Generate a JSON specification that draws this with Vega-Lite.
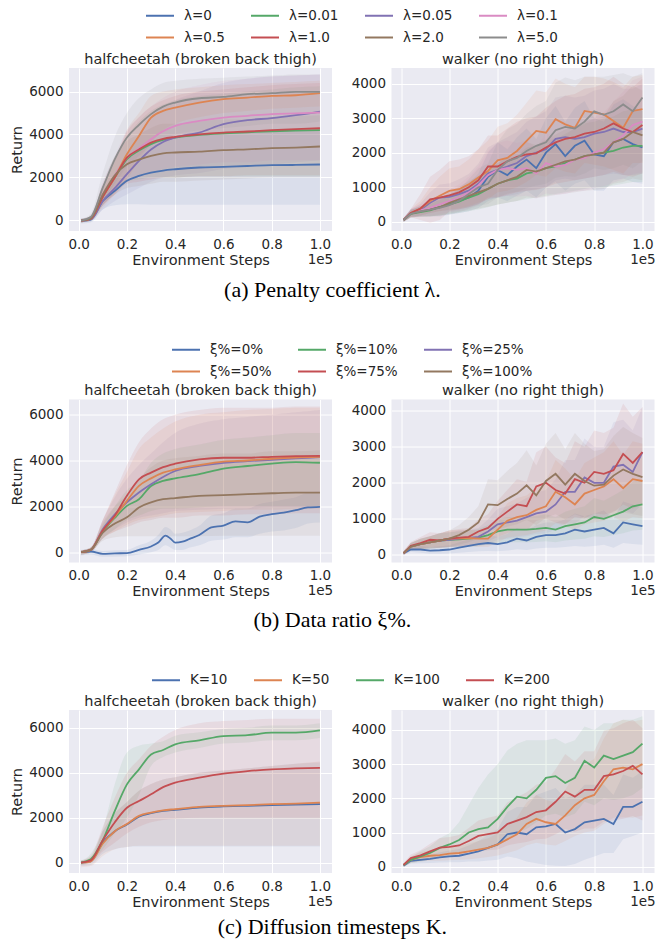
{
"$schema": "https://vega.github.io/schema/vega-lite/v6.json",
"padding": {"left": 9, "top": 0, "right": 5, "bottom": 5},
"background": "white",
"spacing": 33.5,
"resolve": {"scale": {"color": "independent", "fill": "independent"}},
"datasets": {
"ah": [
{"s":"λ=0","x":0.01,"y":-20,"l":-150,"h":100},{"s":"λ=0","x":0.05,"y":30,"l":-100,"h":150},{"s":"λ=0","x":0.1,"y":900,"l":500,"h":1300},{"s":"λ=0","x":0.15,"y":1370,"l":700,"h":2000},{"s":"λ=0","x":0.2,"y":1840,"l":750,"h":2900},{"s":"λ=0","x":0.25,"y":2070,"l":750,"h":3300},{"s":"λ=0","x":0.3,"y":2220,"l":720,"h":3600},{"s":"λ=0","x":0.35,"y":2320,"l":720,"h":3800},{"s":"λ=0","x":0.4,"y":2380,"l":720,"h":3900},{"s":"λ=0","x":0.5,"y":2460,"l":720,"h":4000},{"s":"λ=0","x":0.6,"y":2490,"l":720,"h":4050},{"s":"λ=0","x":0.7,"y":2530,"l":720,"h":4100},{"s":"λ=0","x":0.8,"y":2570,"l":720,"h":4150},{"s":"λ=0","x":0.9,"y":2580,"l":720,"h":4150},{"s":"λ=0","x":1,"y":2600,"l":720,"h":4200},
{"s":"λ=0.01","x":0.01,"y":-20,"l":-100,"h":50},{"s":"λ=0.01","x":0.05,"y":60,"l":-50,"h":200},{"s":"λ=0.01","x":0.1,"y":1100,"l":700,"h":1600},{"s":"λ=0.01","x":0.15,"y":2000,"l":1300,"h":2800},{"s":"λ=0.01","x":0.2,"y":2850,"l":1800,"h":3900},{"s":"λ=0.01","x":0.25,"y":3250,"l":1900,"h":4600},{"s":"λ=0.01","x":0.3,"y":3550,"l":2000,"h":5100},{"s":"λ=0.01","x":0.35,"y":3750,"l":2000,"h":5400},{"s":"λ=0.01","x":0.4,"y":3850,"l":2000,"h":5600},{"s":"λ=0.01","x":0.5,"y":3980,"l":2050,"h":5800},{"s":"λ=0.01","x":0.6,"y":4050,"l":2050,"h":5900},{"s":"λ=0.01","x":0.7,"y":4100,"l":2050,"h":6000},{"s":"λ=0.01","x":0.8,"y":4150,"l":2050,"h":6100},{"s":"λ=0.01","x":0.9,"y":4180,"l":2050,"h":6200},{"s":"λ=0.01","x":1,"y":4200,"l":2050,"h":6250},
{"s":"λ=0.05","x":0.01,"y":-20,"l":-100,"h":50},{"s":"λ=0.05","x":0.05,"y":40,"l":-50,"h":150},{"s":"λ=0.05","x":0.1,"y":900,"l":500,"h":1300},{"s":"λ=0.05","x":0.15,"y":1500,"l":900,"h":2200},{"s":"λ=0.05","x":0.2,"y":2150,"l":1200,"h":3100},{"s":"λ=0.05","x":0.25,"y":2770,"l":1500,"h":4000},{"s":"λ=0.05","x":0.3,"y":3300,"l":1800,"h":4800},{"s":"λ=0.05","x":0.35,"y":3650,"l":2000,"h":5300},{"s":"λ=0.05","x":0.4,"y":3860,"l":2100,"h":5600},{"s":"λ=0.05","x":0.5,"y":4090,"l":2200,"h":6000},{"s":"λ=0.05","x":0.6,"y":4480,"l":2400,"h":6400},{"s":"λ=0.05","x":0.7,"y":4670,"l":2500,"h":6600},{"s":"λ=0.05","x":0.8,"y":4760,"l":2600,"h":6700},{"s":"λ=0.05","x":0.9,"y":4900,"l":2700,"h":6750},{"s":"λ=0.05","x":1,"y":5070,"l":2800,"h":6800},
{"s":"λ=0.1","x":0.01,"y":-20,"l":-100,"h":60},{"s":"λ=0.1","x":0.05,"y":80,"l":0,"h":200},{"s":"λ=0.1","x":0.1,"y":1200,"l":700,"h":1800},{"s":"λ=0.1","x":0.15,"y":2100,"l":1300,"h":3000},{"s":"λ=0.1","x":0.2,"y":2920,"l":1800,"h":4200},{"s":"λ=0.1","x":0.25,"y":3350,"l":2000,"h":4800},{"s":"λ=0.1","x":0.3,"y":3780,"l":2200,"h":5300},{"s":"λ=0.1","x":0.35,"y":4150,"l":2400,"h":5700},{"s":"λ=0.1","x":0.4,"y":4400,"l":2500,"h":6000},{"s":"λ=0.1","x":0.5,"y":4630,"l":2600,"h":6300},{"s":"λ=0.1","x":0.6,"y":4790,"l":2700,"h":6500},{"s":"λ=0.1","x":0.7,"y":4870,"l":2700,"h":6600},{"s":"λ=0.1","x":0.8,"y":4950,"l":2800,"h":6700},{"s":"λ=0.1","x":0.9,"y":4980,"l":2800,"h":6750},{"s":"λ=0.1","x":1,"y":5020,"l":2800,"h":6800},
{"s":"λ=0.5","x":0.01,"y":-20,"l":-100,"h":60},{"s":"λ=0.5","x":0.05,"y":80,"l":0,"h":200},{"s":"λ=0.5","x":0.1,"y":1100,"l":600,"h":1600},{"s":"λ=0.5","x":0.15,"y":2000,"l":1200,"h":2800},{"s":"λ=0.5","x":0.2,"y":3080,"l":1900,"h":4200},{"s":"λ=0.5","x":0.25,"y":3930,"l":2800,"h":5000},{"s":"λ=0.5","x":0.3,"y":4790,"l":3600,"h":5800},{"s":"λ=0.5","x":0.35,"y":5100,"l":4200,"h":6000},{"s":"λ=0.5","x":0.4,"y":5250,"l":4500,"h":6100},{"s":"λ=0.5","x":0.5,"y":5490,"l":4800,"h":6200},{"s":"λ=0.5","x":0.6,"y":5650,"l":5000,"h":6300},{"s":"λ=0.5","x":0.7,"y":5720,"l":5100,"h":6350},{"s":"λ=0.5","x":0.8,"y":5800,"l":5200,"h":6400},{"s":"λ=0.5","x":0.9,"y":5830,"l":5250,"h":6450},{"s":"λ=0.5","x":1,"y":5925,"l":5300,"h":6500},
{"s":"λ=1.0","x":0.01,"y":-20,"l":-100,"h":60},{"s":"λ=1.0","x":0.05,"y":60,"l":0,"h":150},{"s":"λ=1.0","x":0.1,"y":1100,"l":700,"h":1600},{"s":"λ=1.0","x":0.15,"y":2000,"l":1200,"h":2800},{"s":"λ=1.0","x":0.2,"y":2920,"l":1700,"h":4100},{"s":"λ=1.0","x":0.25,"y":3300,"l":1800,"h":4800},{"s":"λ=1.0","x":0.3,"y":3620,"l":1900,"h":5300},{"s":"λ=1.0","x":0.35,"y":3800,"l":2000,"h":5600},{"s":"λ=1.0","x":0.4,"y":3890,"l":2000,"h":5800},{"s":"λ=1.0","x":0.5,"y":4010,"l":2050,"h":6000},{"s":"λ=1.0","x":0.6,"y":4090,"l":2050,"h":6100},{"s":"λ=1.0","x":0.7,"y":4140,"l":2100,"h":6200},{"s":"λ=1.0","x":0.8,"y":4200,"l":2100,"h":6300},{"s":"λ=1.0","x":0.9,"y":4250,"l":2100,"h":6350},{"s":"λ=1.0","x":1,"y":4290,"l":2100,"h":6400},
{"s":"λ=2.0","x":0.01,"y":-20,"l":-100,"h":60},{"s":"λ=2.0","x":0.05,"y":80,"l":0,"h":200},{"s":"λ=2.0","x":0.1,"y":1200,"l":700,"h":1700},{"s":"λ=2.0","x":0.15,"y":2100,"l":1200,"h":3000},{"s":"λ=2.0","x":0.2,"y":2610,"l":1500,"h":3700},{"s":"λ=2.0","x":0.25,"y":2830,"l":1600,"h":4000},{"s":"λ=2.0","x":0.3,"y":3000,"l":1700,"h":4300},{"s":"λ=2.0","x":0.35,"y":3120,"l":1800,"h":4500},{"s":"λ=2.0","x":0.4,"y":3160,"l":1800,"h":4500},{"s":"λ=2.0","x":0.5,"y":3200,"l":1850,"h":4600},{"s":"λ=2.0","x":0.6,"y":3270,"l":1900,"h":4700},{"s":"λ=2.0","x":0.7,"y":3310,"l":1950,"h":4700},{"s":"λ=2.0","x":0.8,"y":3360,"l":2000,"h":4800},{"s":"λ=2.0","x":0.9,"y":3390,"l":2000,"h":4850},{"s":"λ=2.0","x":1,"y":3440,"l":2000,"h":4900},
{"s":"λ=5.0","x":0.01,"y":-20,"l":-100,"h":60},{"s":"λ=5.0","x":0.05,"y":150,"l":0,"h":300},{"s":"λ=5.0","x":0.1,"y":1520,"l":900,"h":2200},{"s":"λ=5.0","x":0.15,"y":2850,"l":1700,"h":3900},{"s":"λ=5.0","x":0.2,"y":3860,"l":2500,"h":5000},{"s":"λ=5.0","x":0.25,"y":4450,"l":3000,"h":5700},{"s":"λ=5.0","x":0.3,"y":4950,"l":3500,"h":6100},{"s":"λ=5.0","x":0.35,"y":5300,"l":3800,"h":6400},{"s":"λ=5.0","x":0.4,"y":5490,"l":4000,"h":6500},{"s":"λ=5.0","x":0.5,"y":5690,"l":4200,"h":6600},{"s":"λ=5.0","x":0.6,"y":5750,"l":4300,"h":6650},{"s":"λ=5.0","x":0.7,"y":5880,"l":4400,"h":6700},{"s":"λ=5.0","x":0.8,"y":5925,"l":4500,"h":6750},{"s":"λ=5.0","x":0.9,"y":5990,"l":4500,"h":6800},{"s":"λ=5.0","x":1,"y":5990,"l":4600,"h":6800}
],
"aw": [
{"s":"λ=0","x":0.01,"y":50,"l":0,"h":100},{"s":"λ=0","x":0.04,"y":250,"l":150,"h":350},{"s":"λ=0","x":0.08,"y":300,"l":150,"h":450},{"s":"λ=0","x":0.12,"y":350,"l":150,"h":550},{"s":"λ=0","x":0.16,"y":420,"l":150,"h":700},{"s":"λ=0","x":0.2,"y":500,"l":200,"h":800},{"s":"λ=0","x":0.24,"y":600,"l":250,"h":950},{"s":"λ=0","x":0.28,"y":700,"l":300,"h":1100},{"s":"λ=0","x":0.32,"y":900,"l":400,"h":1400},{"s":"λ=0","x":0.36,"y":1300,"l":600,"h":2000},{"s":"λ=0","x":0.4,"y":1500,"l":700,"h":2300},{"s":"λ=0","x":0.44,"y":1350,"l":600,"h":2100},{"s":"λ=0","x":0.48,"y":1600,"l":750,"h":2450},{"s":"λ=0","x":0.52,"y":1800,"l":900,"h":2700},{"s":"λ=0","x":0.56,"y":1550,"l":700,"h":2400},{"s":"λ=0","x":0.6,"y":2000,"l":1000,"h":3000},{"s":"λ=0","x":0.64,"y":2250,"l":1150,"h":3350},{"s":"λ=0","x":0.68,"y":1900,"l":900,"h":2900},{"s":"λ=0","x":0.72,"y":2200,"l":1100,"h":3300},{"s":"λ=0","x":0.76,"y":2350,"l":1200,"h":3500},{"s":"λ=0","x":0.8,"y":1950,"l":900,"h":3000},{"s":"λ=0","x":0.84,"y":1900,"l":900,"h":2900},{"s":"λ=0","x":0.88,"y":2300,"l":1200,"h":3400},{"s":"λ=0","x":0.92,"y":2400,"l":1250,"h":3550},{"s":"λ=0","x":0.96,"y":2250,"l":1150,"h":3350},{"s":"λ=0","x":1,"y":2150,"l":1100,"h":3200},
{"s":"λ=0.01","x":0.01,"y":50,"l":0,"h":100},{"s":"λ=0.01","x":0.04,"y":230,"l":120,"h":340},{"s":"λ=0.01","x":0.08,"y":280,"l":140,"h":420},{"s":"λ=0.01","x":0.12,"y":330,"l":150,"h":500},{"s":"λ=0.01","x":0.16,"y":420,"l":180,"h":650},{"s":"λ=0.01","x":0.2,"y":500,"l":220,"h":780},{"s":"λ=0.01","x":0.24,"y":580,"l":250,"h":900},{"s":"λ=0.01","x":0.28,"y":700,"l":300,"h":1100},{"s":"λ=0.01","x":0.32,"y":800,"l":350,"h":1250},{"s":"λ=0.01","x":0.36,"y":950,"l":420,"h":1480},{"s":"λ=0.01","x":0.4,"y":1100,"l":500,"h":1700},{"s":"λ=0.01","x":0.44,"y":1200,"l":550,"h":1850},{"s":"λ=0.01","x":0.48,"y":1250,"l":600,"h":1900},{"s":"λ=0.01","x":0.52,"y":1400,"l":650,"h":2150},{"s":"λ=0.01","x":0.56,"y":1450,"l":700,"h":2200},{"s":"λ=0.01","x":0.6,"y":1550,"l":750,"h":2350},{"s":"λ=0.01","x":0.64,"y":1600,"l":800,"h":2400},{"s":"λ=0.01","x":0.68,"y":1700,"l":850,"h":2550},{"s":"λ=0.01","x":0.72,"y":1800,"l":900,"h":2700},{"s":"λ=0.01","x":0.76,"y":1900,"l":950,"h":2850},{"s":"λ=0.01","x":0.8,"y":1950,"l":1000,"h":2900},{"s":"λ=0.01","x":0.84,"y":2000,"l":1000,"h":3000},{"s":"λ=0.01","x":0.88,"y":2050,"l":1050,"h":3050},{"s":"λ=0.01","x":0.92,"y":2150,"l":1100,"h":3200},{"s":"λ=0.01","x":0.96,"y":2200,"l":1150,"h":3250},{"s":"λ=0.01","x":1,"y":2200,"l":1150,"h":3250},
{"s":"λ=0.05","x":0.01,"y":50,"l":0,"h":100},{"s":"λ=0.05","x":0.04,"y":250,"l":140,"h":360},{"s":"λ=0.05","x":0.08,"y":350,"l":180,"h":520},{"s":"λ=0.05","x":0.12,"y":550,"l":250,"h":850},{"s":"λ=0.05","x":0.16,"y":700,"l":320,"h":1080},{"s":"λ=0.05","x":0.2,"y":720,"l":330,"h":1110},{"s":"λ=0.05","x":0.24,"y":800,"l":370,"h":1230},{"s":"λ=0.05","x":0.28,"y":900,"l":420,"h":1380},{"s":"λ=0.05","x":0.32,"y":1100,"l":520,"h":1680},{"s":"λ=0.05","x":0.36,"y":1400,"l":650,"h":2150},{"s":"λ=0.05","x":0.4,"y":1500,"l":700,"h":2300},{"s":"λ=0.05","x":0.44,"y":1600,"l":750,"h":2450},{"s":"λ=0.05","x":0.48,"y":1700,"l":800,"h":2600},{"s":"λ=0.05","x":0.52,"y":1900,"l":900,"h":2900},{"s":"λ=0.05","x":0.56,"y":2000,"l":950,"h":3050},{"s":"λ=0.05","x":0.6,"y":2100,"l":1000,"h":3200},{"s":"λ=0.05","x":0.64,"y":2400,"l":1200,"h":3600},{"s":"λ=0.05","x":0.68,"y":2450,"l":1250,"h":3650},{"s":"λ=0.05","x":0.72,"y":2400,"l":1200,"h":3600},{"s":"λ=0.05","x":0.76,"y":2450,"l":1250,"h":3650},{"s":"λ=0.05","x":0.8,"y":2550,"l":1300,"h":3800},{"s":"λ=0.05","x":0.84,"y":2600,"l":1350,"h":3850},{"s":"λ=0.05","x":0.88,"y":2700,"l":1400,"h":4000},{"s":"λ=0.05","x":0.92,"y":2600,"l":1350,"h":3850},{"s":"λ=0.05","x":0.96,"y":2600,"l":1350,"h":3850},{"s":"λ=0.05","x":1,"y":2700,"l":1400,"h":4000},
{"s":"λ=0.1","x":0.01,"y":50,"l":0,"h":100},{"s":"λ=0.1","x":0.04,"y":250,"l":130,"h":370},{"s":"λ=0.1","x":0.08,"y":330,"l":160,"h":500},{"s":"λ=0.1","x":0.12,"y":400,"l":180,"h":620},{"s":"λ=0.1","x":0.16,"y":500,"l":220,"h":780},{"s":"λ=0.1","x":0.2,"y":600,"l":270,"h":930},{"s":"λ=0.1","x":0.24,"y":700,"l":320,"h":1080},{"s":"λ=0.1","x":0.28,"y":850,"l":400,"h":1300},{"s":"λ=0.1","x":0.32,"y":1050,"l":500,"h":1600},{"s":"λ=0.1","x":0.36,"y":1350,"l":650,"h":2050},{"s":"λ=0.1","x":0.4,"y":1500,"l":720,"h":2280},{"s":"λ=0.1","x":0.44,"y":1550,"l":750,"h":2350},{"s":"λ=0.1","x":0.48,"y":1500,"l":720,"h":2280},{"s":"λ=0.1","x":0.52,"y":1550,"l":750,"h":2350},{"s":"λ=0.1","x":0.56,"y":1400,"l":680,"h":2120},{"s":"λ=0.1","x":0.6,"y":1700,"l":820,"h":2580},{"s":"λ=0.1","x":0.64,"y":1600,"l":780,"h":2420},{"s":"λ=0.1","x":0.68,"y":1650,"l":800,"h":2500},{"s":"λ=0.1","x":0.72,"y":1800,"l":880,"h":2720},{"s":"λ=0.1","x":0.76,"y":1850,"l":900,"h":2800},{"s":"λ=0.1","x":0.8,"y":2000,"l":980,"h":3020},{"s":"λ=0.1","x":0.84,"y":2100,"l":1030,"h":3170},{"s":"λ=0.1","x":0.88,"y":2300,"l":1130,"h":3470},{"s":"λ=0.1","x":0.92,"y":2500,"l":1230,"h":3770},{"s":"λ=0.1","x":0.96,"y":2800,"l":1380,"h":4100},{"s":"λ=0.1","x":1,"y":2900,"l":1430,"h":4200},
{"s":"λ=0.5","x":0.01,"y":50,"l":0,"h":100},{"s":"λ=0.5","x":0.04,"y":250,"l":130,"h":370},{"s":"λ=0.5","x":0.08,"y":380,"l":180,"h":600},{"s":"λ=0.5","x":0.12,"y":600,"l":250,"h":1000},{"s":"λ=0.5","x":0.16,"y":750,"l":300,"h":1300},{"s":"λ=0.5","x":0.2,"y":890,"l":350,"h":1550},{"s":"λ=0.5","x":0.24,"y":940,"l":380,"h":1600},{"s":"λ=0.5","x":0.28,"y":1080,"l":450,"h":1800},{"s":"λ=0.5","x":0.32,"y":1280,"l":550,"h":2100},{"s":"λ=0.5","x":0.36,"y":1470,"l":650,"h":2350},{"s":"λ=0.5","x":0.4,"y":1780,"l":850,"h":2750},{"s":"λ=0.5","x":0.44,"y":1850,"l":900,"h":2850},{"s":"λ=0.5","x":0.48,"y":2050,"l":1000,"h":3100},{"s":"λ=0.5","x":0.52,"y":2340,"l":1150,"h":3450},{"s":"λ=0.5","x":0.56,"y":2630,"l":1350,"h":3800},{"s":"λ=0.5","x":0.6,"y":2580,"l":1300,"h":3750},{"s":"λ=0.5","x":0.64,"y":2970,"l":1550,"h":4150},{"s":"λ=0.5","x":0.68,"y":2820,"l":1450,"h":4000},{"s":"λ=0.5","x":0.72,"y":2720,"l":1400,"h":3900},{"s":"λ=0.5","x":0.76,"y":3210,"l":1700,"h":4200},{"s":"λ=0.5","x":0.8,"y":3160,"l":1650,"h":4200},{"s":"λ=0.5","x":0.84,"y":3110,"l":1600,"h":4150},{"s":"λ=0.5","x":0.88,"y":2920,"l":1500,"h":4050},{"s":"λ=0.5","x":0.92,"y":2720,"l":1400,"h":3900},{"s":"λ=0.5","x":0.96,"y":3210,"l":1700,"h":4200},{"s":"λ=0.5","x":1,"y":3260,"l":1700,"h":4250},
{"s":"λ=1.0","x":0.01,"y":50,"l":0,"h":100},{"s":"λ=1.0","x":0.04,"y":250,"l":130,"h":370},{"s":"λ=1.0","x":0.08,"y":380,"l":50,"h":800},{"s":"λ=1.0","x":0.12,"y":650,"l":-30,"h":1300},{"s":"λ=1.0","x":0.16,"y":700,"l":50,"h":1500},{"s":"λ=1.0","x":0.2,"y":760,"l":300,"h":1750},{"s":"λ=1.0","x":0.24,"y":850,"l":350,"h":1800},{"s":"λ=1.0","x":0.28,"y":1000,"l":420,"h":1900},{"s":"λ=1.0","x":0.32,"y":1200,"l":500,"h":2100},{"s":"λ=1.0","x":0.36,"y":1600,"l":700,"h":2500},{"s":"λ=1.0","x":0.4,"y":1600,"l":700,"h":2500},{"s":"λ=1.0","x":0.44,"y":1750,"l":780,"h":2700},{"s":"λ=1.0","x":0.48,"y":1880,"l":850,"h":2900},{"s":"λ=1.0","x":0.52,"y":1950,"l":900,"h":3000},{"s":"λ=1.0","x":0.56,"y":1980,"l":920,"h":3050},{"s":"λ=1.0","x":0.6,"y":2150,"l":1000,"h":3300},{"s":"λ=1.0","x":0.64,"y":2300,"l":1100,"h":3500},{"s":"λ=1.0","x":0.68,"y":2400,"l":1150,"h":3650},{"s":"λ=1.0","x":0.72,"y":2450,"l":1200,"h":3700},{"s":"λ=1.0","x":0.76,"y":2550,"l":1250,"h":3850},{"s":"λ=1.0","x":0.8,"y":2600,"l":1300,"h":3900},{"s":"λ=1.0","x":0.84,"y":2700,"l":1350,"h":4000},{"s":"λ=1.0","x":0.88,"y":2850,"l":1450,"h":4200},{"s":"λ=1.0","x":0.92,"y":2700,"l":1350,"h":4000},{"s":"λ=1.0","x":0.96,"y":2600,"l":1300,"h":3900},{"s":"λ=1.0","x":1,"y":2800,"l":1400,"h":4150},
{"s":"λ=2.0","x":0.01,"y":50,"l":0,"h":100},{"s":"λ=2.0","x":0.04,"y":230,"l":120,"h":340},{"s":"λ=2.0","x":0.08,"y":300,"l":150,"h":450},{"s":"λ=2.0","x":0.12,"y":350,"l":160,"h":540},{"s":"λ=2.0","x":0.16,"y":420,"l":180,"h":660},{"s":"λ=2.0","x":0.2,"y":550,"l":240,"h":860},{"s":"λ=2.0","x":0.24,"y":650,"l":290,"h":1010},{"s":"λ=2.0","x":0.28,"y":750,"l":330,"h":1170},{"s":"λ=2.0","x":0.32,"y":850,"l":380,"h":1320},{"s":"λ=2.0","x":0.36,"y":950,"l":430,"h":1470},{"s":"λ=2.0","x":0.4,"y":1100,"l":500,"h":1700},{"s":"λ=2.0","x":0.44,"y":1200,"l":550,"h":1850},{"s":"λ=2.0","x":0.48,"y":1300,"l":600,"h":2000},{"s":"λ=2.0","x":0.52,"y":1500,"l":700,"h":2300},{"s":"λ=2.0","x":0.56,"y":1450,"l":680,"h":2220},{"s":"λ=2.0","x":0.6,"y":1550,"l":720,"h":2380},{"s":"λ=2.0","x":0.64,"y":1650,"l":770,"h":2530},{"s":"λ=2.0","x":0.68,"y":1750,"l":820,"h":2680},{"s":"λ=2.0","x":0.72,"y":1800,"l":850,"h":2750},{"s":"λ=2.0","x":0.76,"y":1900,"l":900,"h":2900},{"s":"λ=2.0","x":0.8,"y":1950,"l":920,"h":2980},{"s":"λ=2.0","x":0.84,"y":2000,"l":950,"h":3050},{"s":"λ=2.0","x":0.88,"y":2300,"l":1100,"h":3500},{"s":"λ=2.0","x":0.92,"y":2400,"l":1150,"h":3650},{"s":"λ=2.0","x":0.96,"y":2600,"l":1250,"h":3950},{"s":"λ=2.0","x":1,"y":2500,"l":1200,"h":3800},
{"s":"λ=5.0","x":0.01,"y":50,"l":0,"h":100},{"s":"λ=5.0","x":0.04,"y":230,"l":120,"h":340},{"s":"λ=5.0","x":0.08,"y":300,"l":150,"h":450},{"s":"λ=5.0","x":0.12,"y":350,"l":160,"h":540},{"s":"λ=5.0","x":0.16,"y":400,"l":180,"h":620},{"s":"λ=5.0","x":0.2,"y":480,"l":210,"h":750},{"s":"λ=5.0","x":0.24,"y":600,"l":270,"h":930},{"s":"λ=5.0","x":0.28,"y":800,"l":370,"h":1230},{"s":"λ=5.0","x":0.32,"y":1000,"l":460,"h":1540},{"s":"λ=5.0","x":0.36,"y":1100,"l":510,"h":1690},{"s":"λ=5.0","x":0.4,"y":1500,"l":700,"h":2300},{"s":"λ=5.0","x":0.44,"y":1750,"l":820,"h":2680},{"s":"λ=5.0","x":0.48,"y":1850,"l":870,"h":2830},{"s":"λ=5.0","x":0.52,"y":2050,"l":970,"h":3130},{"s":"λ=5.0","x":0.56,"y":2200,"l":1050,"h":3350},{"s":"λ=5.0","x":0.6,"y":2300,"l":1100,"h":3500},{"s":"λ=5.0","x":0.64,"y":2650,"l":1270,"h":4030},{"s":"λ=5.0","x":0.68,"y":2750,"l":1320,"h":4180},{"s":"λ=5.0","x":0.72,"y":2700,"l":1300,"h":4100},{"s":"λ=5.0","x":0.76,"y":2900,"l":1400,"h":4200},{"s":"λ=5.0","x":0.8,"y":3200,"l":1550,"h":4200},{"s":"λ=5.0","x":0.84,"y":3100,"l":1500,"h":4200},{"s":"λ=5.0","x":0.88,"y":3200,"l":1550,"h":4250},{"s":"λ=5.0","x":0.92,"y":3400,"l":1650,"h":4300},{"s":"λ=5.0","x":0.96,"y":3200,"l":1550,"h":4200},{"s":"λ=5.0","x":1,"y":3600,"l":1750,"h":4300}
],
"bh": [
{"s":"ξ%=0%","x":0.01,"y":0,"l":-150,"h":100},{"s":"ξ%=0%","x":0.05,"y":30,"l":-100,"h":150},{"s":"ξ%=0%","x":0.1,"y":-70,"l":-200,"h":50},{"s":"ξ%=0%","x":0.15,"y":-50,"l":-200,"h":80},{"s":"ξ%=0%","x":0.2,"y":-40,"l":-180,"h":100},{"s":"ξ%=0%","x":0.25,"y":100,"l":-100,"h":300},{"s":"ξ%=0%","x":0.3,"y":250,"l":0,"h":500},{"s":"ξ%=0%","x":0.33,"y":420,"l":100,"h":750},{"s":"ξ%=0%","x":0.36,"y":720,"l":300,"h":1100},{"s":"ξ%=0%","x":0.38,"y":600,"l":200,"h":1000},{"s":"ξ%=0%","x":0.4,"y":420,"l":100,"h":800},{"s":"ξ%=0%","x":0.43,"y":460,"l":100,"h":850},{"s":"ξ%=0%","x":0.46,"y":580,"l":200,"h":950},{"s":"ξ%=0%","x":0.5,"y":750,"l":300,"h":1150},{"s":"ξ%=0%","x":0.55,"y":1080,"l":500,"h":1600},{"s":"ξ%=0%","x":0.6,"y":1160,"l":550,"h":1700},{"s":"ξ%=0%","x":0.65,"y":1340,"l":650,"h":1900},{"s":"ξ%=0%","x":0.7,"y":1300,"l":650,"h":1900},{"s":"ξ%=0%","x":0.75,"y":1550,"l":800,"h":2100},{"s":"ξ%=0%","x":0.8,"y":1660,"l":900,"h":2200},{"s":"ξ%=0%","x":0.85,"y":1730,"l":950,"h":2300},{"s":"ξ%=0%","x":0.9,"y":1835,"l":1050,"h":2400},{"s":"ξ%=0%","x":0.95,"y":1950,"l":1250,"h":2600},{"s":"ξ%=0%","x":1,"y":1980,"l":1300,"h":2650},
{"s":"ξ%=10%","x":0.01,"y":0,"l":-100,"h":80},{"s":"ξ%=10%","x":0.05,"y":100,"l":0,"h":200},{"s":"ξ%=10%","x":0.1,"y":900,"l":600,"h":1200},{"s":"ξ%=10%","x":0.15,"y":1500,"l":1000,"h":2000},{"s":"ξ%=10%","x":0.2,"y":2020,"l":1400,"h":2700},{"s":"ξ%=10%","x":0.25,"y":2310,"l":1600,"h":3100},{"s":"ξ%=10%","x":0.3,"y":2890,"l":1800,"h":3900},{"s":"ξ%=10%","x":0.35,"y":3110,"l":1900,"h":4300},{"s":"ξ%=10%","x":0.4,"y":3220,"l":1900,"h":4500},{"s":"ξ%=10%","x":0.5,"y":3400,"l":1950,"h":4700},{"s":"ξ%=10%","x":0.6,"y":3640,"l":2000,"h":4900},{"s":"ξ%=10%","x":0.7,"y":3760,"l":2000,"h":5000},{"s":"ξ%=10%","x":0.8,"y":3860,"l":2000,"h":5100},{"s":"ξ%=10%","x":0.9,"y":3930,"l":2000,"h":5200},{"s":"ξ%=10%","x":1,"y":3900,"l":2000,"h":5200},
{"s":"ξ%=25%","x":0.01,"y":0,"l":-100,"h":80},{"s":"ξ%=25%","x":0.05,"y":100,"l":0,"h":200},{"s":"ξ%=25%","x":0.1,"y":1000,"l":600,"h":1400},{"s":"ξ%=25%","x":0.15,"y":1650,"l":1000,"h":2400},{"s":"ξ%=25%","x":0.2,"y":2170,"l":1300,"h":3200},{"s":"ξ%=25%","x":0.25,"y":2600,"l":1500,"h":3800},{"s":"ξ%=25%","x":0.3,"y":2960,"l":1600,"h":4300},{"s":"ξ%=25%","x":0.35,"y":3280,"l":1700,"h":4800},{"s":"ξ%=25%","x":0.4,"y":3540,"l":1800,"h":5200},{"s":"ξ%=25%","x":0.5,"y":3760,"l":1850,"h":5600},{"s":"ξ%=25%","x":0.6,"y":3900,"l":1900,"h":5800},{"s":"ξ%=25%","x":0.7,"y":3970,"l":1900,"h":5900},{"s":"ξ%=25%","x":0.8,"y":4030,"l":1950,"h":6000},{"s":"ξ%=25%","x":0.9,"y":4090,"l":1950,"h":6100},{"s":"ξ%=25%","x":1,"y":4150,"l":2000,"h":6200},
{"s":"ξ%=50%","x":0.01,"y":0,"l":-100,"h":80},{"s":"ξ%=50%","x":0.05,"y":100,"l":0,"h":200},{"s":"ξ%=50%","x":0.1,"y":950,"l":600,"h":1400},{"s":"ξ%=50%","x":0.15,"y":1550,"l":900,"h":2500},{"s":"ξ%=50%","x":0.2,"y":2240,"l":1200,"h":3500},{"s":"ξ%=50%","x":0.25,"y":2890,"l":1400,"h":4500},{"s":"ξ%=50%","x":0.3,"y":3220,"l":1500,"h":5000},{"s":"ξ%=50%","x":0.35,"y":3470,"l":1600,"h":5400},{"s":"ξ%=50%","x":0.4,"y":3610,"l":1700,"h":5700},{"s":"ξ%=50%","x":0.5,"y":3800,"l":1750,"h":6000},{"s":"ξ%=50%","x":0.6,"y":3950,"l":1800,"h":6100},{"s":"ξ%=50%","x":0.7,"y":4000,"l":1850,"h":6200},{"s":"ξ%=50%","x":0.8,"y":4075,"l":1850,"h":6250},{"s":"ξ%=50%","x":0.9,"y":4130,"l":1900,"h":6300},{"s":"ξ%=50%","x":1,"y":4160,"l":1900,"h":6300},
{"s":"ξ%=75%","x":0.01,"y":0,"l":-100,"h":80},{"s":"ξ%=75%","x":0.05,"y":100,"l":0,"h":200},{"s":"ξ%=75%","x":0.1,"y":950,"l":600,"h":1400},{"s":"ξ%=75%","x":0.15,"y":1600,"l":900,"h":2600},{"s":"ξ%=75%","x":0.2,"y":2460,"l":1100,"h":3800},{"s":"ξ%=75%","x":0.25,"y":3180,"l":1300,"h":4800},{"s":"ξ%=75%","x":0.3,"y":3470,"l":1400,"h":5400},{"s":"ξ%=75%","x":0.35,"y":3710,"l":1500,"h":5800},{"s":"ξ%=75%","x":0.4,"y":3860,"l":1500,"h":6000},{"s":"ξ%=75%","x":0.5,"y":4050,"l":1600,"h":6200},{"s":"ξ%=75%","x":0.6,"y":4120,"l":1600,"h":6300},{"s":"ξ%=75%","x":0.7,"y":4120,"l":1650,"h":6300},{"s":"ξ%=75%","x":0.8,"y":4160,"l":1650,"h":6300},{"s":"ξ%=75%","x":0.9,"y":4190,"l":1700,"h":6350},{"s":"ξ%=75%","x":1,"y":4200,"l":1700,"h":6350},
{"s":"ξ%=100%","x":0.01,"y":0,"l":-100,"h":80},{"s":"ξ%=100%","x":0.05,"y":100,"l":0,"h":200},{"s":"ξ%=100%","x":0.1,"y":850,"l":500,"h":1300},{"s":"ξ%=100%","x":0.15,"y":1250,"l":650,"h":2000},{"s":"ξ%=100%","x":0.2,"y":1520,"l":700,"h":2500},{"s":"ξ%=100%","x":0.25,"y":1950,"l":700,"h":3200},{"s":"ξ%=100%","x":0.3,"y":2170,"l":700,"h":3700},{"s":"ξ%=100%","x":0.35,"y":2310,"l":700,"h":4000},{"s":"ξ%=100%","x":0.4,"y":2360,"l":700,"h":4100},{"s":"ξ%=100%","x":0.5,"y":2460,"l":700,"h":4200},{"s":"ξ%=100%","x":0.6,"y":2490,"l":720,"h":4300},{"s":"ξ%=100%","x":0.7,"y":2530,"l":720,"h":4300},{"s":"ξ%=100%","x":0.8,"y":2570,"l":720,"h":4400},{"s":"ξ%=100%","x":0.9,"y":2600,"l":720,"h":4400},{"s":"ξ%=100%","x":1,"y":2600,"l":720,"h":4450}
],
"bw": [
{"s":"ξ%=0%","x":0.01,"y":50,"l":0,"h":100},{"s":"ξ%=0%","x":0.04,"y":150,"l":80,"h":230},{"s":"ξ%=0%","x":0.08,"y":150,"l":60,"h":250},{"s":"ξ%=0%","x":0.12,"y":120,"l":30,"h":220},{"s":"ξ%=0%","x":0.16,"y":130,"l":30,"h":240},{"s":"ξ%=0%","x":0.2,"y":150,"l":40,"h":270},{"s":"ξ%=0%","x":0.24,"y":200,"l":60,"h":350},{"s":"ξ%=0%","x":0.28,"y":250,"l":80,"h":430},{"s":"ξ%=0%","x":0.32,"y":300,"l":100,"h":500},{"s":"ξ%=0%","x":0.36,"y":330,"l":110,"h":550},{"s":"ξ%=0%","x":0.4,"y":300,"l":100,"h":500},{"s":"ξ%=0%","x":0.44,"y":350,"l":120,"h":580},{"s":"ξ%=0%","x":0.48,"y":450,"l":160,"h":750},{"s":"ξ%=0%","x":0.52,"y":400,"l":140,"h":670},{"s":"ξ%=0%","x":0.56,"y":500,"l":180,"h":820},{"s":"ξ%=0%","x":0.6,"y":550,"l":200,"h":900},{"s":"ξ%=0%","x":0.64,"y":550,"l":200,"h":900},{"s":"ξ%=0%","x":0.68,"y":600,"l":220,"h":980},{"s":"ξ%=0%","x":0.72,"y":700,"l":250,"h":1150},{"s":"ξ%=0%","x":0.76,"y":650,"l":230,"h":1070},{"s":"ξ%=0%","x":0.8,"y":700,"l":250,"h":1150},{"s":"ξ%=0%","x":0.84,"y":750,"l":280,"h":1230},{"s":"ξ%=0%","x":0.88,"y":600,"l":200,"h":1000},{"s":"ξ%=0%","x":0.92,"y":900,"l":330,"h":1480},{"s":"ξ%=0%","x":0.96,"y":850,"l":300,"h":1400},{"s":"ξ%=0%","x":1,"y":800,"l":280,"h":1320},
{"s":"ξ%=10%","x":0.01,"y":50,"l":0,"h":100},{"s":"ξ%=10%","x":0.04,"y":230,"l":130,"h":330},{"s":"ξ%=10%","x":0.08,"y":300,"l":160,"h":450},{"s":"ξ%=10%","x":0.12,"y":350,"l":180,"h":520},{"s":"ξ%=10%","x":0.16,"y":400,"l":200,"h":600},{"s":"ξ%=10%","x":0.2,"y":420,"l":210,"h":630},{"s":"ξ%=10%","x":0.24,"y":430,"l":220,"h":650},{"s":"ξ%=10%","x":0.28,"y":450,"l":230,"h":680},{"s":"ξ%=10%","x":0.32,"y":480,"l":240,"h":720},{"s":"ξ%=10%","x":0.36,"y":550,"l":280,"h":830},{"s":"ξ%=10%","x":0.4,"y":650,"l":330,"h":980},{"s":"ξ%=10%","x":0.44,"y":700,"l":350,"h":1050},{"s":"ξ%=10%","x":0.48,"y":700,"l":350,"h":1050},{"s":"ξ%=10%","x":0.52,"y":700,"l":350,"h":1050},{"s":"ξ%=10%","x":0.56,"y":720,"l":360,"h":1080},{"s":"ξ%=10%","x":0.6,"y":750,"l":380,"h":1130},{"s":"ξ%=10%","x":0.64,"y":700,"l":350,"h":1050},{"s":"ξ%=10%","x":0.68,"y":800,"l":400,"h":1200},{"s":"ξ%=10%","x":0.72,"y":850,"l":430,"h":1280},{"s":"ξ%=10%","x":0.76,"y":900,"l":450,"h":1350},{"s":"ξ%=10%","x":0.8,"y":1050,"l":520,"h":1580},{"s":"ξ%=10%","x":0.84,"y":1000,"l":500,"h":1500},{"s":"ξ%=10%","x":0.88,"y":1100,"l":550,"h":1650},{"s":"ξ%=10%","x":0.92,"y":1200,"l":600,"h":1800},{"s":"ξ%=10%","x":0.96,"y":1350,"l":680,"h":2030},{"s":"ξ%=10%","x":1,"y":1400,"l":700,"h":2100},
{"s":"ξ%=25%","x":0.01,"y":50,"l":0,"h":100},{"s":"ξ%=25%","x":0.04,"y":230,"l":130,"h":330},{"s":"ξ%=25%","x":0.08,"y":300,"l":160,"h":450},{"s":"ξ%=25%","x":0.12,"y":350,"l":180,"h":520},{"s":"ξ%=25%","x":0.16,"y":400,"l":200,"h":600},{"s":"ξ%=25%","x":0.2,"y":420,"l":210,"h":630},{"s":"ξ%=25%","x":0.24,"y":450,"l":230,"h":680},{"s":"ξ%=25%","x":0.28,"y":470,"l":240,"h":700},{"s":"ξ%=25%","x":0.32,"y":500,"l":250,"h":750},{"s":"ξ%=25%","x":0.36,"y":650,"l":320,"h":980},{"s":"ξ%=25%","x":0.4,"y":850,"l":420,"h":1280},{"s":"ξ%=25%","x":0.44,"y":900,"l":450,"h":1350},{"s":"ξ%=25%","x":0.48,"y":950,"l":480,"h":1430},{"s":"ξ%=25%","x":0.52,"y":1050,"l":520,"h":1580},{"s":"ξ%=25%","x":0.56,"y":1150,"l":580,"h":1730},{"s":"ξ%=25%","x":0.6,"y":1200,"l":600,"h":1800},{"s":"ξ%=25%","x":0.64,"y":1400,"l":700,"h":2100},{"s":"ξ%=25%","x":0.68,"y":1750,"l":870,"h":2630},{"s":"ξ%=25%","x":0.72,"y":1750,"l":870,"h":2630},{"s":"ξ%=25%","x":0.76,"y":2150,"l":1080,"h":3230},{"s":"ξ%=25%","x":0.8,"y":2000,"l":1000,"h":3000},{"s":"ξ%=25%","x":0.84,"y":2000,"l":1000,"h":3000},{"s":"ξ%=25%","x":0.88,"y":2450,"l":1220,"h":3680},{"s":"ξ%=25%","x":0.92,"y":2500,"l":1250,"h":3750},{"s":"ξ%=25%","x":0.96,"y":2300,"l":1150,"h":3450},{"s":"ξ%=25%","x":1,"y":2850,"l":1420,"h":4100},
{"s":"ξ%=50%","x":0.01,"y":50,"l":0,"h":100},{"s":"ξ%=50%","x":0.04,"y":230,"l":130,"h":330},{"s":"ξ%=50%","x":0.08,"y":300,"l":160,"h":450},{"s":"ξ%=50%","x":0.12,"y":350,"l":180,"h":520},{"s":"ξ%=50%","x":0.16,"y":400,"l":200,"h":600},{"s":"ξ%=50%","x":0.2,"y":450,"l":220,"h":680},{"s":"ξ%=50%","x":0.24,"y":460,"l":230,"h":690},{"s":"ξ%=50%","x":0.28,"y":470,"l":240,"h":700},{"s":"ξ%=50%","x":0.32,"y":450,"l":220,"h":680},{"s":"ξ%=50%","x":0.36,"y":450,"l":220,"h":680},{"s":"ξ%=50%","x":0.4,"y":700,"l":350,"h":1050},{"s":"ξ%=50%","x":0.44,"y":950,"l":480,"h":1430},{"s":"ξ%=50%","x":0.48,"y":1050,"l":520,"h":1580},{"s":"ξ%=50%","x":0.52,"y":1100,"l":550,"h":1650},{"s":"ξ%=50%","x":0.56,"y":1250,"l":620,"h":1880},{"s":"ξ%=50%","x":0.6,"y":1350,"l":680,"h":2030},{"s":"ξ%=50%","x":0.64,"y":1750,"l":880,"h":2630},{"s":"ξ%=50%","x":0.68,"y":1600,"l":800,"h":2400},{"s":"ξ%=50%","x":0.72,"y":1400,"l":700,"h":2100},{"s":"ξ%=50%","x":0.76,"y":1700,"l":850,"h":2550},{"s":"ξ%=50%","x":0.8,"y":1800,"l":900,"h":2700},{"s":"ξ%=50%","x":0.84,"y":1900,"l":950,"h":2850},{"s":"ξ%=50%","x":0.88,"y":2100,"l":1050,"h":3150},{"s":"ξ%=50%","x":0.92,"y":1850,"l":920,"h":2780},{"s":"ξ%=50%","x":0.96,"y":2100,"l":1050,"h":3150},{"s":"ξ%=50%","x":1,"y":2050,"l":1020,"h":3080},
{"s":"ξ%=75%","x":0.01,"y":50,"l":0,"h":100},{"s":"ξ%=75%","x":0.04,"y":250,"l":140,"h":360},{"s":"ξ%=75%","x":0.08,"y":330,"l":170,"h":500},{"s":"ξ%=75%","x":0.12,"y":420,"l":210,"h":630},{"s":"ξ%=75%","x":0.16,"y":400,"l":200,"h":600},{"s":"ξ%=75%","x":0.2,"y":450,"l":220,"h":680},{"s":"ξ%=75%","x":0.24,"y":480,"l":240,"h":720},{"s":"ξ%=75%","x":0.28,"y":500,"l":250,"h":750},{"s":"ξ%=75%","x":0.32,"y":650,"l":320,"h":980},{"s":"ξ%=75%","x":0.36,"y":750,"l":380,"h":1130},{"s":"ξ%=75%","x":0.4,"y":1000,"l":500,"h":1500},{"s":"ξ%=75%","x":0.44,"y":1200,"l":600,"h":1800},{"s":"ξ%=75%","x":0.48,"y":1400,"l":700,"h":2100},{"s":"ξ%=75%","x":0.52,"y":1350,"l":680,"h":2030},{"s":"ξ%=75%","x":0.56,"y":1900,"l":950,"h":2850},{"s":"ξ%=75%","x":0.6,"y":2000,"l":1000,"h":3000},{"s":"ξ%=75%","x":0.64,"y":1800,"l":900,"h":2700},{"s":"ξ%=75%","x":0.68,"y":1700,"l":850,"h":2550},{"s":"ξ%=75%","x":0.72,"y":2100,"l":1050,"h":3150},{"s":"ξ%=75%","x":0.76,"y":2000,"l":1000,"h":3000},{"s":"ξ%=75%","x":0.8,"y":2300,"l":1150,"h":3450},{"s":"ξ%=75%","x":0.84,"y":2250,"l":1120,"h":3380},{"s":"ξ%=75%","x":0.88,"y":2350,"l":1180,"h":3530},{"s":"ξ%=75%","x":0.92,"y":2800,"l":1400,"h":4200},{"s":"ξ%=75%","x":0.96,"y":2550,"l":1280,"h":3830},{"s":"ξ%=75%","x":1,"y":2850,"l":1420,"h":4100},
{"s":"ξ%=100%","x":0.01,"y":50,"l":0,"h":100},{"s":"ξ%=100%","x":0.04,"y":230,"l":130,"h":330},{"s":"ξ%=100%","x":0.08,"y":300,"l":160,"h":450},{"s":"ξ%=100%","x":0.12,"y":350,"l":180,"h":520},{"s":"ξ%=100%","x":0.16,"y":400,"l":200,"h":600},{"s":"ξ%=100%","x":0.2,"y":450,"l":220,"h":680},{"s":"ξ%=100%","x":0.24,"y":550,"l":280,"h":830},{"s":"ξ%=100%","x":0.28,"y":700,"l":350,"h":1050},{"s":"ξ%=100%","x":0.32,"y":900,"l":450,"h":1350},{"s":"ξ%=100%","x":0.36,"y":1400,"l":700,"h":2100},{"s":"ξ%=100%","x":0.4,"y":1380,"l":700,"h":2070},{"s":"ξ%=100%","x":0.44,"y":1550,"l":780,"h":2330},{"s":"ξ%=100%","x":0.48,"y":1700,"l":850,"h":2550},{"s":"ξ%=100%","x":0.52,"y":1930,"l":970,"h":2900},{"s":"ξ%=100%","x":0.56,"y":1650,"l":830,"h":2480},{"s":"ξ%=100%","x":0.6,"y":2050,"l":1030,"h":3080},{"s":"ξ%=100%","x":0.64,"y":2250,"l":1130,"h":3380},{"s":"ξ%=100%","x":0.68,"y":1950,"l":980,"h":2930},{"s":"ξ%=100%","x":0.72,"y":2250,"l":1130,"h":3380},{"s":"ξ%=100%","x":0.76,"y":2050,"l":1030,"h":3080},{"s":"ξ%=100%","x":0.8,"y":1920,"l":960,"h":2880},{"s":"ξ%=100%","x":0.84,"y":1950,"l":980,"h":2930},{"s":"ξ%=100%","x":0.88,"y":2200,"l":1100,"h":3300},{"s":"ξ%=100%","x":0.92,"y":2370,"l":1180,"h":3550},{"s":"ξ%=100%","x":0.96,"y":2250,"l":1130,"h":3380},{"s":"ξ%=100%","x":1,"y":2160,"l":1080,"h":3240}
],
"ch": [
{"s":"K=10","x":0.01,"y":0,"l":-150,"h":100},{"s":"K=10","x":0.05,"y":60,"l":-100,"h":200},{"s":"K=10","x":0.1,"y":900,"l":400,"h":1400},{"s":"K=10","x":0.15,"y":1400,"l":600,"h":2200},{"s":"K=10","x":0.2,"y":1700,"l":700,"h":2700},{"s":"K=10","x":0.25,"y":2050,"l":720,"h":3200},{"s":"K=10","x":0.3,"y":2200,"l":720,"h":3500},{"s":"K=10","x":0.35,"y":2300,"l":720,"h":3700},{"s":"K=10","x":0.4,"y":2350,"l":720,"h":3800},{"s":"K=10","x":0.5,"y":2450,"l":720,"h":4000},{"s":"K=10","x":0.6,"y":2500,"l":720,"h":4100},{"s":"K=10","x":0.7,"y":2530,"l":720,"h":4200},{"s":"K=10","x":0.8,"y":2560,"l":720,"h":4300},{"s":"K=10","x":0.9,"y":2580,"l":720,"h":4400},{"s":"K=10","x":1,"y":2600,"l":720,"h":4450},
{"s":"K=50","x":0.01,"y":0,"l":-200,"h":100},{"s":"K=50","x":0.05,"y":50,"l":-150,"h":250},{"s":"K=50","x":0.1,"y":850,"l":300,"h":1400},{"s":"K=50","x":0.15,"y":1400,"l":600,"h":2200},{"s":"K=50","x":0.2,"y":1720,"l":700,"h":2700},{"s":"K=50","x":0.25,"y":2080,"l":750,"h":3200},{"s":"K=50","x":0.3,"y":2230,"l":750,"h":3500},{"s":"K=50","x":0.35,"y":2330,"l":750,"h":3700},{"s":"K=50","x":0.4,"y":2380,"l":750,"h":3800},{"s":"K=50","x":0.5,"y":2480,"l":750,"h":4000},{"s":"K=50","x":0.6,"y":2530,"l":750,"h":4100},{"s":"K=50","x":0.7,"y":2560,"l":750,"h":4200},{"s":"K=50","x":0.8,"y":2600,"l":750,"h":4300},{"s":"K=50","x":0.9,"y":2630,"l":750,"h":4400},{"s":"K=50","x":1,"y":2670,"l":750,"h":4500},
{"s":"K=100","x":0.01,"y":0,"l":-100,"h":100},{"s":"K=100","x":0.05,"y":150,"l":50,"h":400},{"s":"K=100","x":0.1,"y":1000,"l":600,"h":1500},{"s":"K=100","x":0.15,"y":2300,"l":1300,"h":3500},{"s":"K=100","x":0.2,"y":3480,"l":2000,"h":4900},{"s":"K=100","x":0.25,"y":4150,"l":3000,"h":5200},{"s":"K=100","x":0.3,"y":4810,"l":4300,"h":5300},{"s":"K=100","x":0.35,"y":5010,"l":4700,"h":5400},{"s":"K=100","x":0.4,"y":5260,"l":4900,"h":5650},{"s":"K=100","x":0.5,"y":5440,"l":5100,"h":5800},{"s":"K=100","x":0.6,"y":5630,"l":5300,"h":5950},{"s":"K=100","x":0.7,"y":5670,"l":5350,"h":6000},{"s":"K=100","x":0.8,"y":5780,"l":5450,"h":6100},{"s":"K=100","x":0.9,"y":5780,"l":5450,"h":6100},{"s":"K=100","x":1,"y":5880,"l":5550,"h":6200},
{"s":"K=200","x":0.01,"y":0,"l":-100,"h":100},{"s":"K=200","x":0.05,"y":100,"l":0,"h":300},{"s":"K=200","x":0.1,"y":1000,"l":500,"h":1600},{"s":"K=200","x":0.15,"y":1800,"l":900,"h":2900},{"s":"K=200","x":0.2,"y":2440,"l":1300,"h":4000},{"s":"K=200","x":0.25,"y":2740,"l":1600,"h":4600},{"s":"K=200","x":0.3,"y":3040,"l":1800,"h":5200},{"s":"K=200","x":0.35,"y":3360,"l":1900,"h":5600},{"s":"K=200","x":0.4,"y":3560,"l":1950,"h":5900},{"s":"K=200","x":0.5,"y":3780,"l":2000,"h":6200},{"s":"K=200","x":0.6,"y":3960,"l":2000,"h":6300},{"s":"K=200","x":0.7,"y":4070,"l":2000,"h":6350},{"s":"K=200","x":0.8,"y":4150,"l":2000,"h":6400},{"s":"K=200","x":0.9,"y":4190,"l":2000,"h":6400},{"s":"K=200","x":1,"y":4220,"l":2000,"h":6400}
],
"cw": [
{"s":"K=10","x":0.01,"y":30,"l":0,"h":80},{"s":"K=10","x":0.04,"y":170,"l":90,"h":250},{"s":"K=10","x":0.08,"y":200,"l":100,"h":300},{"s":"K=10","x":0.12,"y":230,"l":110,"h":350},{"s":"K=10","x":0.16,"y":270,"l":120,"h":420},{"s":"K=10","x":0.2,"y":300,"l":130,"h":470},{"s":"K=10","x":0.24,"y":320,"l":130,"h":520},{"s":"K=10","x":0.28,"y":380,"l":150,"h":620},{"s":"K=10","x":0.32,"y":450,"l":150,"h":750},{"s":"K=10","x":0.36,"y":550,"l":180,"h":920},{"s":"K=10","x":0.4,"y":650,"l":200,"h":1100},{"s":"K=10","x":0.44,"y":950,"l":300,"h":1600},{"s":"K=10","x":0.48,"y":1000,"l":250,"h":1750},{"s":"K=10","x":0.52,"y":950,"l":150,"h":1750},{"s":"K=10","x":0.56,"y":1150,"l":100,"h":2100},{"s":"K=10","x":0.6,"y":1180,"l":50,"h":2200},{"s":"K=10","x":0.64,"y":1250,"l":30,"h":2300},{"s":"K=10","x":0.68,"y":1000,"l":20,"h":2000},{"s":"K=10","x":0.72,"y":1100,"l":80,"h":2100},{"s":"K=10","x":0.76,"y":1300,"l":200,"h":2400},{"s":"K=10","x":0.8,"y":1350,"l":300,"h":2400},{"s":"K=10","x":0.84,"y":1400,"l":400,"h":2400},{"s":"K=10","x":0.88,"y":1250,"l":400,"h":2100},{"s":"K=10","x":0.92,"y":1750,"l":800,"h":2700},{"s":"K=10","x":0.96,"y":1750,"l":900,"h":2600},{"s":"K=10","x":1,"y":1900,"l":1000,"h":2800},
{"s":"K=50","x":0.01,"y":50,"l":0,"h":100},{"s":"K=50","x":0.04,"y":200,"l":110,"h":290},{"s":"K=50","x":0.08,"y":280,"l":150,"h":420},{"s":"K=50","x":0.12,"y":320,"l":170,"h":480},{"s":"K=50","x":0.16,"y":340,"l":170,"h":520},{"s":"K=50","x":0.2,"y":380,"l":190,"h":580},{"s":"K=50","x":0.24,"y":400,"l":200,"h":600},{"s":"K=50","x":0.28,"y":450,"l":220,"h":680},{"s":"K=50","x":0.32,"y":500,"l":250,"h":750},{"s":"K=50","x":0.36,"y":550,"l":280,"h":830},{"s":"K=50","x":0.4,"y":650,"l":330,"h":980},{"s":"K=50","x":0.44,"y":800,"l":400,"h":1200},{"s":"K=50","x":0.48,"y":950,"l":480,"h":1430},{"s":"K=50","x":0.52,"y":1250,"l":630,"h":1880},{"s":"K=50","x":0.56,"y":1400,"l":700,"h":2100},{"s":"K=50","x":0.6,"y":1300,"l":650,"h":1950},{"s":"K=50","x":0.64,"y":1250,"l":620,"h":1880},{"s":"K=50","x":0.68,"y":1500,"l":750,"h":2250},{"s":"K=50","x":0.72,"y":1800,"l":900,"h":2700},{"s":"K=50","x":0.76,"y":2000,"l":1000,"h":3000},{"s":"K=50","x":0.8,"y":2100,"l":1050,"h":3150},{"s":"K=50","x":0.84,"y":2500,"l":1250,"h":3750},{"s":"K=50","x":0.88,"y":2850,"l":1430,"h":4200},{"s":"K=50","x":0.92,"y":2900,"l":1450,"h":4300},{"s":"K=50","x":0.96,"y":2850,"l":1430,"h":4250},{"s":"K=50","x":1,"y":3000,"l":1500,"h":4300},
{"s":"K=100","x":0.01,"y":50,"l":0,"h":100},{"s":"K=100","x":0.04,"y":200,"l":110,"h":290},{"s":"K=100","x":0.08,"y":300,"l":150,"h":450},{"s":"K=100","x":0.12,"y":400,"l":200,"h":600},{"s":"K=100","x":0.16,"y":550,"l":270,"h":830},{"s":"K=100","x":0.2,"y":650,"l":320,"h":980},{"s":"K=100","x":0.24,"y":780,"l":390,"h":1300},{"s":"K=100","x":0.28,"y":1000,"l":480,"h":1800},{"s":"K=100","x":0.32,"y":1100,"l":500,"h":2300},{"s":"K=100","x":0.36,"y":1150,"l":500,"h":2700},{"s":"K=100","x":0.4,"y":1400,"l":600,"h":3000},{"s":"K=100","x":0.44,"y":1750,"l":800,"h":3400},{"s":"K=100","x":0.48,"y":2050,"l":1000,"h":3600},{"s":"K=100","x":0.52,"y":2000,"l":1100,"h":3700},{"s":"K=100","x":0.56,"y":2250,"l":1300,"h":3700},{"s":"K=100","x":0.6,"y":2600,"l":1500,"h":3700},{"s":"K=100","x":0.64,"y":2650,"l":1550,"h":3750},{"s":"K=100","x":0.68,"y":2450,"l":1450,"h":3600},{"s":"K=100","x":0.72,"y":2600,"l":1550,"h":3700},{"s":"K=100","x":0.76,"y":3100,"l":1900,"h":4100},{"s":"K=100","x":0.8,"y":2900,"l":1800,"h":4000},{"s":"K=100","x":0.84,"y":3250,"l":2000,"h":4200},{"s":"K=100","x":0.88,"y":3150,"l":1950,"h":4200},{"s":"K=100","x":0.92,"y":3250,"l":2000,"h":4300},{"s":"K=100","x":0.96,"y":3350,"l":2100,"h":4300},{"s":"K=100","x":1,"y":3600,"l":2300,"h":4400},
{"s":"K=200","x":0.01,"y":50,"l":0,"h":100},{"s":"K=200","x":0.04,"y":250,"l":140,"h":360},{"s":"K=200","x":0.08,"y":330,"l":180,"h":480},{"s":"K=200","x":0.12,"y":450,"l":230,"h":670},{"s":"K=200","x":0.16,"y":560,"l":280,"h":840},{"s":"K=200","x":0.2,"y":580,"l":290,"h":870},{"s":"K=200","x":0.24,"y":620,"l":310,"h":930},{"s":"K=200","x":0.28,"y":750,"l":370,"h":1130},{"s":"K=200","x":0.32,"y":900,"l":450,"h":1350},{"s":"K=200","x":0.36,"y":950,"l":480,"h":1430},{"s":"K=200","x":0.4,"y":1000,"l":500,"h":1500},{"s":"K=200","x":0.44,"y":1250,"l":620,"h":1880},{"s":"K=200","x":0.48,"y":1350,"l":680,"h":2030},{"s":"K=200","x":0.52,"y":1450,"l":720,"h":2180},{"s":"K=200","x":0.56,"y":1600,"l":800,"h":2400},{"s":"K=200","x":0.6,"y":1650,"l":820,"h":2480},{"s":"K=200","x":0.64,"y":1900,"l":950,"h":2850},{"s":"K=200","x":0.68,"y":2200,"l":1100,"h":3300},{"s":"K=200","x":0.72,"y":2050,"l":1020,"h":3080},{"s":"K=200","x":0.76,"y":2250,"l":1120,"h":3380},{"s":"K=200","x":0.8,"y":2250,"l":1120,"h":3380},{"s":"K=200","x":0.84,"y":2650,"l":1320,"h":3980},{"s":"K=200","x":0.88,"y":2700,"l":1350,"h":4050},{"s":"K=200","x":0.92,"y":2800,"l":1400,"h":4200},{"s":"K=200","x":0.96,"y":2950,"l":1480,"h":4300},{"s":"K=200","x":1,"y":2700,"l":1350,"h":4050}
]
},
"vconcat": [
{
"title": {"text": "(a) Penalty coefficient λ.", "orient": "bottom", "font": "Liberation Serif", "fontSize": 22, "fontWeight": "normal", "color": "#000000", "offset": 13, "anchor": "middle"},
"spacing": 17.5,
"hconcat": [
{"width": 263, "height": 163, "title": "halfcheetah (broken back thigh)", "data": {"name": "ah"},
"encoding": {"x": {"field": "x", "type": "quantitative", "title": "Environment Steps", "scale": {"domain": [-0.04, 1.05], "nice": false, "zero": false}, "axis": {"values": [0, 0.2, 0.4, 0.6, 0.8, 1], "labelExpr": "datum.value == 1 ? ['1.0', '1e5'] : format(datum.value, '.1f')", "labelLineHeight": 15, "titleY": 29, "titleBaseline": "middle", "labelFlush": false, "labelOverlap": false}}},
"layer": [
{"mark": {"type": "area", "opacity": 0.1, "interpolate": "monotone", "clip": true}, "encoding": {"y": {"field": "l", "type": "quantitative", "title": "Return", "scale": {"domain": [-500, 7100], "nice": false, "zero": false}, "axis": {"values": [0, 2000, 4000, 6000], "format": "d"}}, "y2": {"field": "h"}, "fill": {"field": "s", "type": "nominal", "scale": {"domain": ["λ=5.0","λ=2.0","λ=1.0","λ=0.5","λ=0.1","λ=0.05","λ=0.01","λ=0"], "range": ["#8C8C8C","#937860","#C44E52","#DD8452","#DA8BC3","#8172B3","#55A868","#4C72B0"]}, "legend": null}}},
{"mark": {"type": "line", "strokeWidth": 1.8, "interpolate": "monotone", "clip": true}, "encoding": {"y": {"field": "y", "type": "quantitative", "title": "Return"}, "color": {"field": "s", "type": "nominal", "scale": {"domain": ["λ=0","λ=0.01","λ=0.05","λ=0.1","λ=0.5","λ=1.0","λ=2.0","λ=5.0"], "range": ["#4C72B0","#55A868","#8172B3","#DA8BC3","#DD8452","#C44E52","#937860","#8C8C8C"]}, "legend": {"orient": "none", "legendX": 76, "legendY": -67.5, "columns": 4, "direction": "horizontal", "title": null}}}}
]},
{"width": 263, "height": 163, "title": "walker (no right thigh)", "data": {"name": "aw"},
"encoding": {"x": {"field": "x", "type": "quantitative", "title": "Environment Steps", "scale": {"domain": [-0.04, 1.05], "nice": false, "zero": false}, "axis": {"values": [0, 0.2, 0.4, 0.6, 0.8, 1], "labelExpr": "datum.value == 1 ? ['1.0', '1e5'] : format(datum.value, '.1f')", "labelLineHeight": 15, "titleY": 29, "titleBaseline": "middle", "labelFlush": false, "labelOverlap": false}}},
"layer": [
{"mark": {"type": "area", "opacity": 0.1, "clip": true}, "encoding": {"y": {"field": "l", "type": "quantitative", "title": null, "scale": {"domain": [-270, 4455], "nice": false, "zero": false}, "axis": {"values": [0, 1000, 2000, 3000, 4000], "format": "d"}}, "y2": {"field": "h"}, "fill": {"field": "s", "type": "nominal", "scale": {"domain": ["λ=5.0","λ=2.0","λ=1.0","λ=0.5","λ=0.1","λ=0.05","λ=0.01","λ=0"], "range": ["#8C8C8C","#937860","#C44E52","#DD8452","#DA8BC3","#8172B3","#55A868","#4C72B0"]}, "legend": null}}},
{"mark": {"type": "line", "strokeWidth": 1.8, "clip": true}, "encoding": {"y": {"field": "y", "type": "quantitative", "title": null}, "color": {"field": "s", "type": "nominal", "scale": {"domain": ["λ=0","λ=0.01","λ=0.05","λ=0.1","λ=0.5","λ=1.0","λ=2.0","λ=5.0"], "range": ["#4C72B0","#55A868","#8172B3","#DA8BC3","#DD8452","#C44E52","#937860","#8C8C8C"]}, "legend": {"orient": "none", "legendX": 76, "legendY": -67.5, "columns": 4, "direction": "horizontal", "title": null}}}}
]}
]
},
{
"title": {"text": "(b) Data ratio ξ%.", "orient": "bottom", "font": "Liberation Serif", "fontSize": 22, "fontWeight": "normal", "color": "#000000", "offset": 12, "anchor": "middle"},
"spacing": 17.5,
"hconcat": [
{"width": 263, "height": 163, "title": "halfcheetah (broken back thigh)", "data": {"name": "bh"},
"encoding": {"x": {"field": "x", "type": "quantitative", "title": "Environment Steps", "scale": {"domain": [-0.04, 1.05], "nice": false, "zero": false}, "axis": {"values": [0, 0.2, 0.4, 0.6, 0.8, 1], "labelExpr": "datum.value == 1 ? ['1.0', '1e5'] : format(datum.value, '.1f')", "labelLineHeight": 15, "titleY": 29, "titleBaseline": "middle", "labelFlush": false, "labelOverlap": false}}},
"layer": [
{"mark": {"type": "area", "opacity": 0.1, "interpolate": "monotone", "clip": true}, "encoding": {"y": {"field": "l", "type": "quantitative", "title": "Return", "scale": {"domain": [-450, 6660], "nice": false, "zero": false}, "axis": {"values": [0, 2000, 4000, 6000], "format": "d"}}, "y2": {"field": "h"}, "fill": {"field": "s", "type": "nominal", "scale": {"domain": ["ξ%=100%","ξ%=75%","ξ%=50%","ξ%=25%","ξ%=10%","ξ%=0%"], "range": ["#937860","#C44E52","#DD8452","#8172B3","#55A868","#4C72B0"]}, "legend": null}}},
{"mark": {"type": "line", "strokeWidth": 1.8, "interpolate": "monotone", "clip": true}, "encoding": {"y": {"field": "y", "type": "quantitative", "title": "Return"}, "color": {"field": "s", "type": "nominal", "scale": {"domain": ["ξ%=0%","ξ%=10%","ξ%=25%","ξ%=50%","ξ%=75%","ξ%=100%"], "range": ["#4C72B0","#55A868","#8172B3","#DD8452","#C44E52","#937860"]}, "legend": {"orient": "none", "legendX": 102, "legendY": -65, "columns": 3, "direction": "horizontal", "title": null}}}}
]},
{"width": 263, "height": 163, "title": "walker (no right thigh)", "data": {"name": "bw"},
"encoding": {"x": {"field": "x", "type": "quantitative", "title": "Environment Steps", "scale": {"domain": [-0.04, 1.05], "nice": false, "zero": false}, "axis": {"values": [0, 0.2, 0.4, 0.6, 0.8, 1], "labelExpr": "datum.value == 1 ? ['1.0', '1e5'] : format(datum.value, '.1f')", "labelLineHeight": 15, "titleY": 29, "titleBaseline": "middle", "labelFlush": false, "labelOverlap": false}}},
"layer": [
{"mark": {"type": "area", "opacity": 0.1, "clip": true}, "encoding": {"y": {"field": "l", "type": "quantitative", "title": null, "scale": {"domain": [-210, 4310], "nice": false, "zero": false}, "axis": {"values": [0, 1000, 2000, 3000, 4000], "format": "d"}}, "y2": {"field": "h"}, "fill": {"field": "s", "type": "nominal", "scale": {"domain": ["ξ%=100%","ξ%=75%","ξ%=50%","ξ%=25%","ξ%=10%","ξ%=0%"], "range": ["#937860","#C44E52","#DD8452","#8172B3","#55A868","#4C72B0"]}, "legend": null}}},
{"mark": {"type": "line", "strokeWidth": 1.8, "clip": true}, "encoding": {"y": {"field": "y", "type": "quantitative", "title": null}, "color": {"field": "s", "type": "nominal", "scale": {"domain": ["ξ%=0%","ξ%=10%","ξ%=25%","ξ%=50%","ξ%=75%","ξ%=100%"], "range": ["#4C72B0","#55A868","#8172B3","#DD8452","#C44E52","#937860"]}, "legend": {"orient": "none", "legendX": 102, "legendY": -65, "columns": 3, "direction": "horizontal", "title": null}}}}
]}
]
},
{
"title": {"text": "(c) Diffusion timesteps K.", "orient": "bottom", "font": "Liberation Serif", "fontSize": 22, "fontWeight": "normal", "color": "#000000", "offset": 8, "anchor": "middle"},
"spacing": 17.5,
"hconcat": [
{"width": 263, "height": 163, "title": "halfcheetah (broken back thigh)", "data": {"name": "ch"},
"encoding": {"x": {"field": "x", "type": "quantitative", "title": "Environment Steps", "scale": {"domain": [-0.04, 1.05], "nice": false, "zero": false}, "axis": {"values": [0, 0.2, 0.4, 0.6, 0.8, 1], "labelExpr": "datum.value == 1 ? ['1.0', '1e5'] : format(datum.value, '.1f')", "labelLineHeight": 15, "titleY": 29, "titleBaseline": "middle", "labelFlush": false, "labelOverlap": false}}},
"layer": [
{"mark": {"type": "area", "opacity": 0.1, "interpolate": "monotone", "clip": true}, "encoding": {"y": {"field": "l", "type": "quantitative", "title": "Return", "scale": {"domain": [-460, 6790], "nice": false, "zero": false}, "axis": {"values": [0, 2000, 4000, 6000], "format": "d"}}, "y2": {"field": "h"}, "fill": {"field": "s", "type": "nominal", "scale": {"domain": ["K=200","K=100","K=50","K=10"], "range": ["#C44E52","#55A868","#DD8452","#4C72B0"]}, "legend": null}}},
{"mark": {"type": "line", "strokeWidth": 1.8, "interpolate": "monotone", "clip": true}, "encoding": {"y": {"field": "y", "type": "quantitative", "title": "Return"}, "color": {"field": "s", "type": "nominal", "scale": {"domain": ["K=10","K=50","K=100","K=200"], "range": ["#4C72B0","#DD8452","#55A868","#C44E52"]}, "legend": {"orient": "none", "legendX": 82, "legendY": -45, "columns": 4, "direction": "horizontal", "title": null}}}}
]},
{"width": 263, "height": 163, "title": "walker (no right thigh)", "data": {"name": "cw"},
"encoding": {"x": {"field": "x", "type": "quantitative", "title": "Environment Steps", "scale": {"domain": [-0.04, 1.05], "nice": false, "zero": false}, "axis": {"values": [0, 0.2, 0.4, 0.6, 0.8, 1], "labelExpr": "datum.value == 1 ? ['1.0', '1e5'] : format(datum.value, '.1f')", "labelLineHeight": 15, "titleY": 29, "titleBaseline": "middle", "labelFlush": false, "labelOverlap": false}}},
"layer": [
{"mark": {"type": "area", "opacity": 0.1, "clip": true}, "encoding": {"y": {"field": "l", "type": "quantitative", "title": null, "scale": {"domain": [-185, 4585], "nice": false, "zero": false}, "axis": {"values": [0, 1000, 2000, 3000, 4000], "format": "d"}}, "y2": {"field": "h"}, "fill": {"field": "s", "type": "nominal", "scale": {"domain": ["K=200","K=100","K=50","K=10"], "range": ["#C44E52","#55A868","#DD8452","#4C72B0"]}, "legend": null}}},
{"mark": {"type": "line", "strokeWidth": 1.8, "clip": true}, "encoding": {"y": {"field": "y", "type": "quantitative", "title": null}, "color": {"field": "s", "type": "nominal", "scale": {"domain": ["K=10","K=50","K=100","K=200"], "range": ["#4C72B0","#DD8452","#55A868","#C44E52"]}, "legend": {"orient": "none", "legendX": 82, "legendY": -45, "columns": 4, "direction": "horizontal", "title": null}}}}
]}
]
}
],
"config": {
"font": "DejaVu Sans",
"view": {"fill": "#EAEAF2", "stroke": null},
"axis": {"domain": false, "ticks": false, "grid": true, "gridColor": "#FFFFFF", "gridWidth": 1, "gridOpacity": 1, "labelFont": "DejaVu Sans", "labelFontSize": 13.5, "labelColor": "#262626", "labelPadding": 6, "titleFont": "DejaVu Sans", "titleFontSize": 14.5, "titleFontWeight": "normal", "titleColor": "#262626", "titlePadding": 4},
"title": {"font": "DejaVu Sans", "fontSize": 14.5, "fontWeight": "normal", "color": "#262626", "offset": 1},
"legend": {"labelFont": "DejaVu Sans", "labelFontSize": 13.5, "labelColor": "#262626", "symbolType": "stroke", "symbolSize": 784, "symbolStrokeWidth": 2, "labelOffset": 9, "columnPadding": 22, "rowPadding": -4.5, "padding": 0}
}
}
